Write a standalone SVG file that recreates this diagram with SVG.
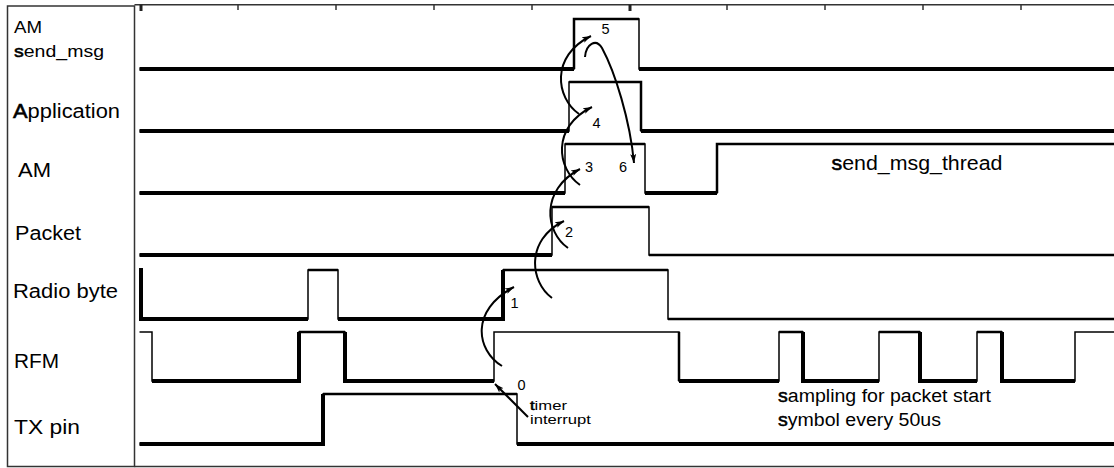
<svg xmlns="http://www.w3.org/2000/svg" width="1114" height="468" viewBox="0 0 1114 468">
<style>
.frame{stroke:#333;stroke-width:1.5;fill:none}
.tick{stroke:#333;stroke-width:1.5;fill:none}
.tickb{stroke:#222;stroke-width:3;fill:none}
.base{stroke:#000;stroke-width:1.5;fill:none}
.med{stroke:#000;stroke-width:2.5;fill:none}
.thick{stroke:#000;stroke-width:4;fill:none}
.lbl{font-family:"Liberation Sans",Arial,sans-serif;fill:#000}
.b{stroke:#000;stroke-width:0.55}
.arrow{stroke:#000;stroke-width:2;fill:none;marker-end:url(#ah)}
.line0{stroke:#000;stroke-width:2;fill:none;marker-end:url(#ah)}
</style>
<defs>
<marker id="ah" markerUnits="userSpaceOnUse" markerWidth="10" markerHeight="8" refX="9" refY="4" orient="auto">
<path d="M0,1 L9,4 L0,7 L2,4 Z" fill="#000"/>
</marker>
</defs>
<rect width="1114" height="468" fill="#fff"/>
<g id="frame">
<rect class="frame" x="7.5" y="6" width="127" height="460.5"/>
<path class="frame" d="M134.5,4.7 H1114 M134.5,466.5 H1114"/>
<path class="tickb" d="M141,4.7 V11 M630,4.7 V11"/>
<path class="tick" d="M238,4.7 V10 M336,4.7 V10 M434,4.7 V10 M532,4.7 V10 M727,4.7 V10 M825,4.7 V10 M923,4.7 V10 M1021,4.7 V10"/>
</g>
<g id="am-send-msg">
<text class="lbl" font-size="16.5" x="14" y="33" textLength="28" lengthAdjust="spacingAndGlyphs">AM</text>
<text class="lbl" font-size="16.5" x="14" y="57" textLength="90" lengthAdjust="spacingAndGlyphs"><tspan class="b">s</tspan>end_msg</text>
<path class="base" d="M139.5,69 H574 V19 H639 V69 H1114"/>
<path class="thick" d="M139.5,69 H574 M639,69 H1114"/>
<path class="med" d="M574,69 V19 H639"/>
</g>
<g id="application">
<text class="lbl" font-size="19.5" x="13" y="118" textLength="107" lengthAdjust="spacingAndGlyphs"><tspan class="b">A</tspan>pplication</text>
<path class="base" d="M139.5,131 H569 V82 H641 V131 H1114"/>
<path class="thick" d="M139.5,131 H569 M641,131 H1114"/>
<path class="med" d="M569,82 H641 V131"/>
</g>
<g id="am">
<text class="lbl" font-size="19.5" x="18" y="177" textLength="33" lengthAdjust="spacingAndGlyphs">AM</text>
<path class="base" d="M139.5,193 H565 V144 H645 V193 H717 V144 H1114"/>
<path class="thick" d="M139.5,193 H565 M645,193 H717"/>
<path class="med" d="M565,144 H645 M717,193 V144 H1114"/>
<text class="lbl" font-size="19.5" x="831.5" y="170" textLength="171" lengthAdjust="spacingAndGlyphs"><tspan class="b">s</tspan>end_msg_thread</text>
</g>
<g id="packet">
<text class="lbl" font-size="19.5" x="15" y="240" textLength="66" lengthAdjust="spacingAndGlyphs">Packet</text>
<path class="base" d="M139.5,255 H552 V207 H649 V255 H1114"/>
<path class="thick" d="M139.5,255 H552"/>
<path class="med" d="M552,207 H649 M649,255 H1114"/>
</g>
<g id="radio-byte">
<text class="lbl" font-size="19.5" x="13" y="298" textLength="105" lengthAdjust="spacingAndGlyphs">Radio byte</text>
<path class="base" d="M141,270 V319 H308 V270 H338 V319 H503 V270 H668 V319 H1114"/>
<path class="thick" d="M141,268 V319 H308 M338,319 H503 V270"/>
<path class="med" d="M308,270 H338 M503,270 H668 M668,319 H1114"/>
</g>
<g id="rfm">
<text class="lbl" font-size="19.5" x="14" y="368" textLength="45" lengthAdjust="spacingAndGlyphs">RFM</text>
<path class="base" d="M139.5,332 H152 V381 H299 V332 H345 V381 H494 V332 H679 V381 H779 V332 H803 V381 H879 V332 H920 V381 H977 V332 H1002 V381 H1075 V332 H1114"/>
<path class="thick" d="M152,381 H299 V332 M345,332 V381 H494 M679,381 H779 M803,332 V381 H879 M920,332 V381 H977 M1002,332 V381 H1075"/>
<path class="med" d="M299,332 H345 M679,332 V381 M779,332 H803 M879,332 H920 M977,332 H1002"/>
<text class="lbl" font-size="18" x="778" y="402" textLength="213" lengthAdjust="spacingAndGlyphs"><tspan class="b">s</tspan>ampling for packet start</text>
<text class="lbl" font-size="18" x="778" y="426" textLength="163" lengthAdjust="spacingAndGlyphs"><tspan class="b">s</tspan>ymbol every 50us</text>
</g>
<g id="tx-pin">
<text class="lbl" font-size="19.5" x="14" y="434" textLength="66" lengthAdjust="spacingAndGlyphs">TX pin</text>
<path class="base" d="M139.5,444 H323 V394 H517 V444 H1114"/>
<path class="thick" d="M139.5,444 H323 V394 M517,444 H1114"/>
<path class="med" d="M323,394 H517"/>
<text class="lbl" font-size="13" x="530" y="410" textLength="37" lengthAdjust="spacingAndGlyphs"><tspan class="b">t</tspan>imer</text>
<text class="lbl" font-size="13" x="530" y="424" textLength="61" lengthAdjust="spacingAndGlyphs">interrupt</text>
</g>
<g id="connectors">
<path class="line0" d="M528,417 L495,384"/>
<path class="arrow" d="M502,366 C476,350 470,310 514,287"/>
<path class="arrow" d="M552,298 C530,282 525,240 564,221"/>
<path class="arrow" d="M568,248 C545,232 540,190 580,169"/>
<path class="arrow" d="M580,185 C557,169 551,127 592,107"/>
<path class="arrow" d="M579,114 C556,98 550,56 591,36"/>
<path class="arrow" d="M585,57 C586,44 596,38 602,48 C615,72 630,120 634,163"/>
<g class="lbl" font-size="14.5">
<text x="517.5" y="390">0</text>
<text x="510.5" y="308">1</text>
<text x="565" y="237">2</text>
<text x="585" y="172">3</text>
<text x="592.5" y="128">4</text>
<text x="601.5" y="34">5</text>
<text x="619" y="172">6</text>
</g>
</g>
</svg>
